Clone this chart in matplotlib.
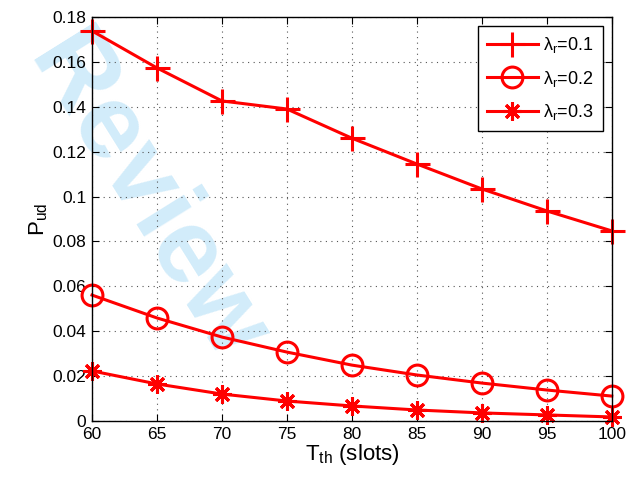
import numpy as np
import matplotlib.pyplot as plt

plt.rcParams['font.family'] = ['Liberation Sans', 'DejaVu Sans']
plt.rcParams['mathtext.fontset'] = 'custom'
plt.rcParams['mathtext.rm'] = 'Liberation Sans'

# data
t_th = [60, 65, 70, 75, 80, 85, 90, 95, 100]
p_r01 = [0.1738, 0.1573, 0.1426, 0.1390, 0.1260, 0.1145, 0.1034, 0.0936, 0.0847]
p_r02 = [0.0561, 0.0459, 0.0374, 0.0307, 0.0249, 0.0205, 0.0169, 0.0138, 0.0111]
p_r03 = [0.0223, 0.0165, 0.0120, 0.0089, 0.0067, 0.0049, 0.0036, 0.0027, 0.0018]
labels = ['λ$_\\mathregular{r}$=0.1', 'λ$_\\mathregular{r}$=0.2', 'λ$_\\mathregular{r}$=0.3']

fig = plt.figure(figsize=(6.32, 4.79), dpi=100)
ax = fig.add_axes([0.1456, 0.1211, 0.8224, 0.8434])
ax.set_zorder(1)
ax.patch.set_alpha(0)

# watermark (behind everything)
fig.text(0.23, 0.585, 'Review', color='#d2ecfa', fontsize=76, fontweight='bold',
         rotation=-58, ha='center', va='center', zorder=0)

ax.plot(t_th, p_r01, '-', color='red', lw=2.2, marker='+', ms=18, mew=2.2, label=labels[0], clip_on=False)
ax.plot(t_th, p_r02, '-', color='red', lw=2.2, marker='o', ms=15, mew=2.2, mfc='none', label=labels[1], clip_on=False)
ax.plot(t_th, p_r03, '-', color='red', lw=2.2, marker=(8, 2, 0), ms=13, mew=2.2, label=labels[2], clip_on=False)

ax.set_xlim(60, 100)
ax.set_ylim(0, 0.18)
ax.set_xticks(t_th)
ax.set_yticks(np.arange(0, 0.181, 0.02))
ax.set_yticklabels(['0', '0.02', '0.04', '0.06', '0.08', '0.1', '0.12', '0.14', '0.16', '0.18'])
ax.tick_params(direction='in', top=True, right=True, labelsize=12.5, length=5, pad=4)
ax.grid(True, linestyle=(0, (1, 4)), color='#555555', lw=0.8)
for s in ax.spines.values():
    s.set_linewidth(1.0)

ax.set_xlabel('T$_\\mathregular{th}$ (slots)', fontsize=16, labelpad=0)
ax.set_ylabel('P$_\\mathregular{ud}$', fontsize=16, labelpad=2)

leg = ax.legend(loc='upper right', fontsize=13, fancybox=False, edgecolor='black',
                framealpha=1, handlelength=2.8, handletextpad=0.3, labelspacing=0.75,
                borderaxespad=0.5, borderpad=0.5)
leg.get_frame().set_linewidth(1.0)

fig.savefig('out.png', dpi=100)
